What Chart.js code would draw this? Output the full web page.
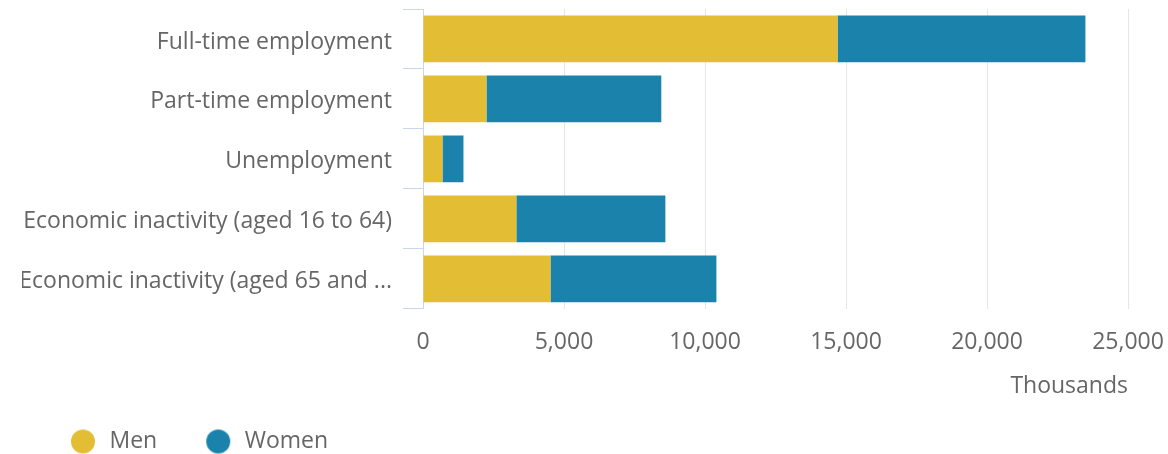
<!DOCTYPE html>
<html>
<head>
<meta charset="utf-8">
<script src="https://cdn.jsdelivr.net/npm/chart.js@4"></script>
<style>
  html, body { margin: 0; padding: 0; background: #ffffff; }
  #wrap { width: 1168px; height: 454px; position: relative; }
</style>
</head>
<body>
<div id="wrap"><canvas id="labourChart"></canvas></div>
<script>
const categories = [
    "Full-time employment",
    "Part-time employment",
    "Unemployment",
    "Economic inactivity (aged 16 to 64)",
    "Economic inactivity (aged 65 and ..."
];
const menValues = [14700, 2250, 690, 3310, 4520];
const womenValues = [8790, 6200, 745, 5285, 5885];
const xTicks = [0, 5000, 10000, 15000, 20000, 25000];

const menColour = "#e3be35";
const womenColour = "#1b83ab";
const textColour = "#666666";
const fontFamily = "'Open Sans', sans-serif";
const fontSize = 23;

// legend marker: dot sits near the right of a wider image so the items space out
function legendDot(colour) {
    const c = document.createElement("canvas");
    c.width = 48;
    c.height = 26;
    const g = c.getContext("2d");
    g.fillStyle = colour;
    g.beginPath();
    g.arc(33, 13, 12, 0, Math.PI * 2);
    g.fill();
    return c;
}

const ctx = document.getElementById("labourChart").getContext("2d");

new Chart(ctx, {
    type: "bar",
    data: {
        labels: categories,
        datasets: [{
            label: "Men",
            data: menValues,
            backgroundColor: menColour,
            borderWidth: 0,
            barPercentage: 0.78,
            categoryPercentage: 1
        }, {
            label: "Women",
            data: womenValues,
            backgroundColor: womenColour,
            borderWidth: 0,
            barPercentage: 0.78,
            categoryPercentage: 1
        }]
    },
    options: {
        indexAxis: "y",
        responsive: true,
        maintainAspectRatio: false,
        animation: false,
        layout: {
            padding: { top: 9, left: 22, right: 40, bottom: -9 }
        },
        plugins: {
            tooltip: { enabled: false },
            legend: {
                position: "bottom",
                align: "start",
                labels: {
                    usePointStyle: true,
                    pointStyleWidth: 48,
                    boxHeight: fontSize,
                    padding: 28,
                    color: textColour,
                    font: { family: fontFamily, size: fontSize },
                    generateLabels: function (chart) {
                        const items = Chart.defaults.plugins.legend.labels.generateLabels(chart);
                        const dots = [legendDot(menColour), legendDot(womenColour)];
                        items.forEach((item, i) => { item.pointStyle = dots[i]; });
                        return items;
                    }
                }
            }
        },
        scales: {
            x: {
                stacked: true,
                min: 0,
                max: 25000,
                afterBuildTicks: function (scale) {
                    scale.ticks = xTicks.map(v => ({ value: v }));
                },
                afterFit: function (scale) {
                    scale.paddingLeft = 0;
                    scale.paddingRight = 0;
                },
                ticks: {
                    color: textColour,
                    padding: 20,
                    font: { family: fontFamily, size: fontSize },
                    callback: v => v.toLocaleString("en-GB")
                },
                grid: {
                    color: "#e6e6e6",
                    drawTicks: false
                },
                border: { display: false },
                title: {
                    display: true,
                    text: "Thousands",
                    align: "end",
                    color: textColour,
                    font: { family: fontFamily, size: fontSize },
                    padding: { top: -4, bottom: 2 }
                }
            },
            y: {
                stacked: true,
                afterFit: function (scale) {
                    scale.width = 401;
                    scale.paddingTop = 0;
                    scale.paddingBottom = 0;
                },
                ticks: {
                    color: textColour,
                    padding: 11,
                    labelOffset: 3,
                    font: { family: fontFamily, size: fontSize }
                },
                grid: {
                    offset: true,
                    drawOnChartArea: false,
                    tickLength: 20,
                    color: "#ccd6eb"
                },
                border: { color: "#ccd6eb" }
            }
        }
    }
});
</script>
</body>
</html>
